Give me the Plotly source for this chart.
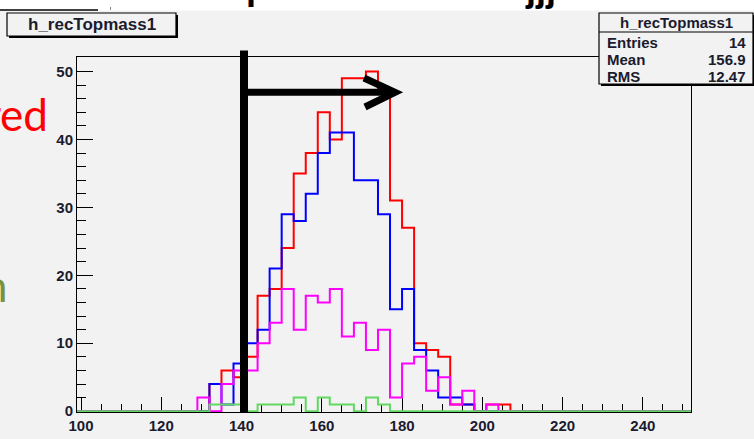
import plotly.graph_objects as go

# ---------------- data ----------------
bin_edges = list(range(99, 253, 3))  # 51 bins of width 3 from 99 to 252

#                 99 ...126 | 129 132 135 138 141 144 147 150 153 156 159 162 165 168 171 174 177 180 183 186 189 192 195 198 201 204 | 207 ... 249
red_vals     = [0]*10 + [0, 4, 6, 5, 8, 17, 18, 24, 35, 38, 44, 40, 49, 49, 50, 47, 31, 27, 10, 9, 8, 1, 1, 0, 1, 1] + [0]*15
blue_vals    = [0]*10 + [0, 4, 1, 7, 10, 12, 21, 29, 28, 32, 38, 41, 41, 34, 34, 29, 15, 18, 9, 6, 2, 2, 1, 0, 0, 0] + [0]*15
magenta_vals = [0]*10 + [2, 0, 4, 6, 6, 10, 13, 18, 12, 17, 16, 18, 11, 13, 9, 12, 2, 7, 8, 3, 5, 1, 3, 0, 1, 0] + [0]*15
green_vals   = [0]*10 + [0, 1, 1, 1, 0, 1, 1, 1, 2, 0, 2, 1, 1, 0, 2, 1, 0, 0, 0, 0, 0, 0, 0, 0, 0, 0] + [0]*15

x_tick_vals = [100, 120, 140, 160, 180, 200, 220, 240]
y_tick_vals = [0, 10, 20, 30, 40, 50]

hist_title = "h_recTopmass1"
stats_labels = ["Entries", "Mean", "RMS"]
stats_values = ["14", "156.9", "12.47"]

# ---------------- figure ----------------
W, H = 754, 439
L, R, T, B = 77, 63, 57, 27
PW, PH = W - L - R, H - T - B
BG = "#f2f2f2"
TXT = "#1b1b2f"


def px(xp):
    return (xp - L) / PW


def py(yp):
    return (H - B - yp) / PH


fig = go.Figure()
series = [
    (red_vals, "#ff0000"),
    (blue_vals, "#0000ff"),
    (magenta_vals, "#ff00ff"),
    (green_vals, "#62d862"),
]
for vals, col in series:
    fig.add_trace(go.Scatter(
        x=bin_edges, y=vals + [vals[-1]], mode="lines",
        line=dict(shape="hv", color=col, width=2),
        hoverinfo="skip", showlegend=False,
    ))

shapes = []
# white strip at top
shapes.append(dict(type="rect", xref="paper", yref="paper", x0=px(0), x1=px(W), y0=py(10.5), y1=py(0),
                   fillcolor="white", line=dict(width=0), layer="above"))
shapes.append(dict(type="line", xref="paper", yref="paper", x0=px(0), x1=px(98), y0=py(10), y1=py(10),
                   line=dict(color="black", width=1.5), layer="above"))
shapes.append(dict(type="line", xref="paper", yref="paper", x0=px(110.5), x1=px(110.5), y0=py(7), y1=py(10),
                   line=dict(color="#888888", width=1), layer="above"))
# title box (shadow + box)
shapes.append(dict(type="rect", xref="paper", yref="paper", x0=px(9), x1=px(178), y0=py(38), y1=py(15),
                   fillcolor="black", line=dict(width=0), layer="above"))
shapes.append(dict(type="rect", xref="paper", yref="paper", x0=px(7), x1=px(176), y0=py(36), y1=py(13),
                   fillcolor=BG, line=dict(color="black", width=1.2), layer="above"))
# stats box
shapes.append(dict(type="rect", xref="paper", yref="paper", x0=px(601), x1=px(756), y0=py(86), y1=py(15),
                   fillcolor="black", line=dict(width=0), layer="above"))
shapes.append(dict(type="rect", xref="paper", yref="paper", x0=px(599), x1=px(753), y0=py(84), y1=py(13),
                   fillcolor=BG, line=dict(color="black", width=1.2), layer="above"))
shapes.append(dict(type="line", xref="paper", yref="paper", x0=px(599), x1=px(753), y0=py(32), y1=py(32),
                   line=dict(color="black", width=1.2), layer="above"))
# thick vertical cut line and arrow
shapes.append(dict(type="line", xref="paper", yref="paper", x0=px(244), x1=px(244), y0=py(413), y1=py(50.5),
                   line=dict(color="black", width=8), layer="above"))
shapes.append(dict(type="line", xref="paper", yref="paper", x0=px(244), x1=px(392), y0=py(92.3), y1=py(92.3),
                   line=dict(color="black", width=7), layer="above"))
shapes.append(dict(type="path", xref="paper", yref="paper",
                   path=f"M {px(364)} {py(78)} L {px(395)} {py(92.3)} L {px(365)} {py(107)}",
                   line=dict(color="black", width=7), layer="above"))
fig.update_layout(shapes=shapes)

ann = []
ann.append(dict(xref="paper", yref="paper", x=px(91.5), y=py(24.5), text=hist_title, showarrow=False,
                xanchor="center", yanchor="middle",
                font=dict(family="Liberation Sans", size=17, weight="bold", color=TXT)))
ann.append(dict(xref="paper", yref="paper", x=px(676), y=py(22.5), text=hist_title, showarrow=False,
                xanchor="center", yanchor="middle",
                font=dict(family="Liberation Sans", size=15, weight="bold", color=TXT)))
row_y = [42, 59, 76]
for lab, val, yy in zip(stats_labels, stats_values, row_y):
    ann.append(dict(xref="paper", yref="paper", x=px(605), y=py(yy), text=lab, showarrow=False,
                    xanchor="left", yanchor="middle",
                    font=dict(family="Liberation Sans", size=15, weight="bold", color=TXT)))
    ann.append(dict(xref="paper", yref="paper", x=px(748), y=py(yy), text=val, showarrow=False,
                    xanchor="right", yanchor="middle",
                    font=dict(family="Liberation Sans", size=15, weight="bold", color=TXT)))
# slide text fragments
ann.append(dict(xref="paper", yref="paper", x=px(50), y=py(114), text="red", showarrow=False,
                xanchor="right", yanchor="middle",
                font=dict(family="Lato", size=44, color="#ff0000")))
ann.append(dict(xref="paper", yref="paper", x=px(10), y=py(285), text="n", showarrow=False,
                xanchor="right", yanchor="middle",
                font=dict(family="Lato", size=44, color="#77933c")))
ann.append(dict(xref="paper", yref="paper", x=px(244), y=py(9), text="p", showarrow=False,
                xanchor="left", yanchor="bottom",
                font=dict(family="Liberation Sans", size=36, weight="bold", color="black")))
ann.append(dict(xref="paper", yref="paper", x=px(523), y=py(11), text="jjj", showarrow=False,
                xanchor="left", yanchor="bottom",
                font=dict(family="Liberation Sans", size=36, weight="bold", color="black")))
fig.update_layout(annotations=ann)

axis_font = dict(family="Liberation Sans", size=15, weight="bold", color=TXT)
fig.update_layout(
    width=W, height=H,
    margin=dict(l=L, r=R, t=T, b=B, pad=0, autoexpand=False),
    paper_bgcolor=BG, plot_bgcolor=BG,
    hovermode=False, showlegend=False,
    xaxis=dict(range=[99, 252], tickvals=x_tick_vals, ticks="inside", ticklen=15, tickwidth=1,
               tickcolor="black", showgrid=False, zeroline=False, showline=True, linecolor="black",
               linewidth=1, mirror=True, tickfont=axis_font, layer="below traces", automargin=False,
               minor=dict(dtick=5, tick0=0, ticks="inside", ticklen=8, tickwidth=1, tickcolor="black",
                          showgrid=False)),
    yaxis=dict(range=[-0.12, 52.13], tickvals=y_tick_vals, ticks="inside", ticklen=16, tickwidth=1,
               tickcolor="black", showgrid=False, zeroline=False, showline=True, linecolor="black",
               linewidth=1, mirror=True, tickfont=axis_font, layer="below traces", automargin=False,
               minor=dict(dtick=2, tick0=0, ticks="inside", ticklen=9, tickwidth=1, tickcolor="black",
                          showgrid=False)),
)

fig.write_html("out.html", config={"displayModeBar": False},
               post_script="document.body.style.margin='0';document.body.style.overflow='hidden';")
